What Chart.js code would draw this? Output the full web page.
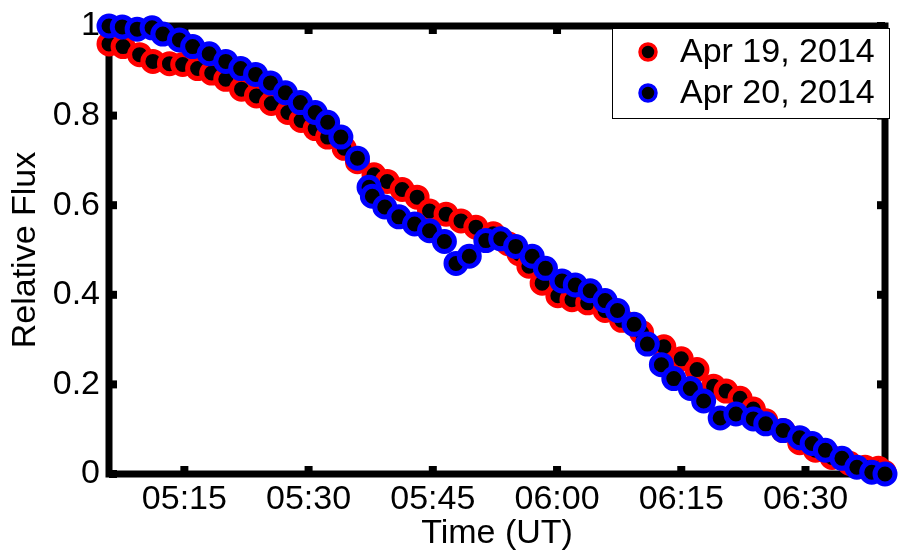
<!DOCTYPE html>
<html>
<head>
<meta charset="utf-8">
<title>Relative Flux</title>
<script src="https://cdn.jsdelivr.net/npm/chart.js@4.4.1/dist/chart.umd.min.js"></script>
<style>
  html, body { margin: 0; padding: 0; background: #fff; }
  #wrap { width: 900px; height: 554px; }
</style>
</head>
<body>
<div id="wrap"><canvas id="fluxChart" width="900" height="554"></canvas></div>
<script>
// times are minutes after 05:00 UT
const seriesLabels = ['Apr 19, 2014', 'Apr 20, 2014'];

const time19 = [5.9, 7.6, 9.6, 11.2, 13.2, 14.8, 16.6, 18.3, 20.0, 21.9, 23.7, 25.5, 27.5, 29.1, 30.8,
    32.3, 34.3, 35.9, 37.9, 39.5, 41.3, 43.1, 44.6, 46.6, 48.4, 50.2, 52.3, 54.1, 55.4, 56.6,
    58.2, 60.1, 61.8, 63.7, 65.8, 67.8, 70.2, 72.9, 75.0, 76.9, 78.9, 80.4, 82.1, 83.7, 85.2,
    87.3, 89.3, 91.2, 93.2, 95.3, 97.2, 98.8, 99.5];
const flux19 = [0.960, 0.954, 0.936, 0.921, 0.916, 0.914, 0.905, 0.895, 0.881, 0.859, 0.844, 0.827, 0.807, 0.789, 0.771,
    0.752, 0.727, 0.697, 0.668, 0.653, 0.635, 0.618, 0.587, 0.580, 0.565, 0.551, 0.536, 0.514, 0.492, 0.464,
    0.426, 0.398, 0.389, 0.382, 0.365, 0.343, 0.316, 0.284, 0.257, 0.233, 0.196, 0.185, 0.169, 0.145, 0.119,
    0.097, 0.070, 0.053, 0.037, 0.024, 0.015, 0.013, 0.004];

const time20 = [5.9, 7.5, 9.3, 11.1, 12.4, 14.4, 16.0, 18.0, 20.0, 21.8, 23.6, 25.4, 27.2, 29.0, 30.8,
    32.3, 33.9, 35.9, 37.3, 37.7, 39.2, 40.9, 42.8, 44.6, 46.4, 47.8, 49.4, 51.4, 53.2, 55.0,
    57.0, 58.6, 60.6, 62.2, 64.0, 65.8, 67.3, 69.3, 70.9, 72.6, 74.1, 76.1, 77.7, 79.7, 81.6,
    83.7, 85.2, 87.3, 89.3, 90.8, 92.4, 94.4, 96.2, 98.0, 99.6];
const flux20 = [1.000, 0.998, 0.993, 0.996, 0.982, 0.969, 0.954, 0.938, 0.921, 0.905, 0.892, 0.873, 0.851, 0.829, 0.807,
    0.785, 0.752, 0.705, 0.640, 0.620, 0.596, 0.574, 0.558, 0.543, 0.519, 0.470, 0.486, 0.521, 0.525, 0.508,
    0.486, 0.459, 0.431, 0.422, 0.409, 0.387, 0.365, 0.334, 0.290, 0.244, 0.213, 0.191, 0.163, 0.125, 0.134,
    0.123, 0.112, 0.097, 0.081, 0.068, 0.053, 0.035, 0.015, 0.004, 0.000];

const xTicks = [15, 30, 45, 60, 75, 90];
const yTicks = [0, 0.2, 0.4, 0.6, 0.8, 1];

const FONT = 'Liberation Sans, Arial, Helvetica, sans-serif';
const edgeColors = ['#ff0000', '#0000ff'];

function fmtTime(m) {
    const h = 5 + Math.floor(m / 60);
    const mm = Math.round(m % 60);
    return String(h).padStart(2, '0') + ':' + String(mm).padStart(2, '0');
}

function toPoints(xs, ys) {
    return xs.map((x, i) => ({ x: x, y: ys[i] }));
}

// thick box around the plot, with inward ticks on all four sides
const frame = {
    id: 'frame',
    beforeDatasetsDraw(chart) {
        const { ctx, chartArea: a, scales } = chart;
        ctx.save();
        ctx.strokeStyle = '#000';
        ctx.lineWidth = 7;
        ctx.strokeRect(a.left, a.top, a.right - a.left, a.bottom - a.top);
        ctx.fillStyle = '#000';
        xTicks.forEach(v => {
            const px = scales.x.getPixelForValue(v);
            ctx.fillRect(px - 4, a.bottom - 8, 8, 8);
            ctx.fillRect(px - 4, a.top, 8, 8);
        });
        yTicks.forEach(v => {
            const py = scales.y.getPixelForValue(v);
            ctx.fillRect(a.left, py - 4, 8, 8);
            ctx.fillRect(a.right - 8, py - 4, 8, 8);
        });
        ctx.restore();
    },
    afterDraw(chart) {
        const { ctx } = chart;
        ctx.save();
        ctx.fillStyle = '#fff';
        ctx.fillRect(612, 28, 277, 90);
        ctx.strokeStyle = '#000';
        ctx.lineWidth = 1;
        ctx.strokeRect(612.5, 28.5, 277, 90);
        ctx.font = '34px ' + FONT;
        ctx.textBaseline = 'middle';
        seriesLabels.forEach((lab, i) => {
            const y = 52 + i * 41;
            ctx.beginPath();
            ctx.arc(648, y, 8, 0, Math.PI * 2);
            ctx.fillStyle = '#000';
            ctx.fill();
            ctx.lineWidth = 3.5;
            ctx.strokeStyle = edgeColors[i];
            ctx.stroke();
            ctx.fillStyle = '#000';
            ctx.fillText(lab, 680, y + 1);
        });
        ctx.restore();
    }
};

const ctx = document.getElementById('fluxChart');

new Chart(ctx, {
    type: 'scatter',
    data: {
        datasets: [
            {
                label: seriesLabels[0],
                data: toPoints(time19, flux19),
                backgroundColor: '#000',
                borderColor: edgeColors[0],
                borderWidth: 5,
                pointRadius: 10,
                clip: false,
                order: 2
            },
            {
                label: seriesLabels[1],
                data: toPoints(time20, flux20),
                backgroundColor: '#000',
                borderColor: edgeColors[1],
                borderWidth: 5,
                pointRadius: 10,
                clip: false,
                order: 1
            }
        ]
    },
    options: {
        responsive: false,
        animation: false,
        devicePixelRatio: 1,
        layout: { padding: { top: 19, right: 7, left: 0, bottom: 0 } },
        plugins: {
            legend: { display: false },
            tooltip: { enabled: false }
        },
        scales: {
            x: {
                type: 'linear',
                min: 5.9,
                max: 99.6,
                afterBuildTicks: s => { s.ticks = xTicks.map(v => ({ value: v })); },
                afterFit: s => { s.height = 80; },
                grid: { display: false, drawTicks: false, tickLength: 0 },
                border: { display: false },
                ticks: {
                    color: '#000',
                    font: { family: FONT, size: 34 },
                    padding: 5,
                    maxRotation: 0,
                    autoSkip: false,
                    callback: v => fmtTime(v)
                },
                title: {
                    display: true,
                    text: 'Time (UT)',
                    color: '#000',
                    font: { family: FONT, size: 34 },
                    padding: { top: 0, bottom: 0 }
                }
            },
            y: {
                min: 0,
                max: 1,
                afterBuildTicks: s => { s.ticks = yTicks.map(v => ({ value: v })); },
                afterFit: s => { s.width = 109; },
                grid: { display: false, drawTicks: false, tickLength: 0 },
                border: { display: false },
                ticks: {
                    color: '#000',
                    font: { family: FONT, size: 34, lineHeight: 1 },
                    padding: 9,
                    callback: v => (v === 0 || v === 1) ? String(v) : v.toFixed(1)
                },
                title: {
                    display: true,
                    text: 'Relative Flux',
                    color: '#000',
                    font: { family: FONT, size: 34 },
                    padding: { top: 5, bottom: 0 }
                }
            }
        }
    },
    plugins: [frame]
});
</script>
</body>
</html>
